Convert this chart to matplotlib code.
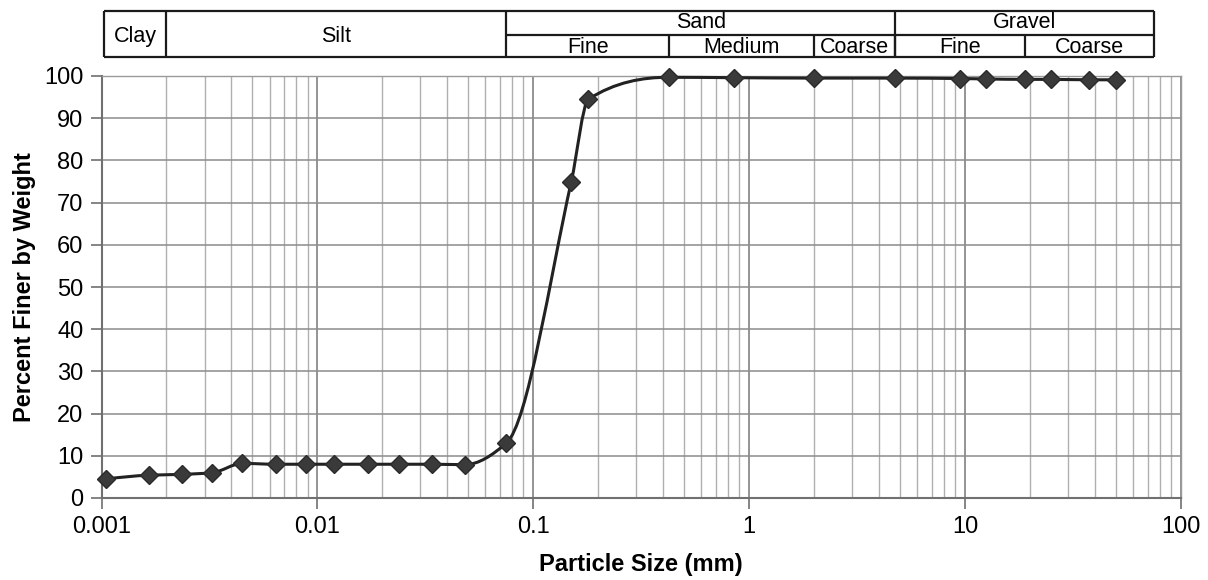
import numpy as np
import matplotlib
matplotlib.use("Agg")
import matplotlib.pyplot as plt
from matplotlib.path import Path
from matplotlib.patches import PathPatch
from matplotlib.ticker import FixedLocator, NullFormatter

plt.rcParams['font.family'] = ['Liberation Sans', 'DejaVu Sans']

# grain size data
size_mm = [0.00105, 0.00166, 0.00236, 0.00326, 0.00449, 0.0064, 0.0089, 0.0120,
           0.0171, 0.0240, 0.0341, 0.0481, 0.075, 0.15, 0.18, 0.425, 0.85, 2.0,
           4.75, 9.5, 12.5, 19.0, 25.0, 37.5, 50.0]
pct_finer = [4.5, 5.4, 5.6, 6.0, 8.2, 8.0, 8.0, 8.0,
             8.0, 8.0, 8.0, 7.9, 13.0, 75.0, 94.5, 99.7, 99.6, 99.5,
             99.5, 99.4, 99.3, 99.2, 99.2, 99.1, 99.1]

x_ticks = [0.001, 0.01, 0.1, 1, 10, 100]
x_tick_labels = ['0.001', '0.01', '0.1', '1', '10', '100']
y_ticks = list(range(0, 101, 10))

# soil classification header
main_bounds = [0.00103, 0.002, 0.075, 4.75, 75]
main_names = ['Clay', 'Silt', 'Sand', 'Gravel']
sub_bounds = [0.075, 0.425, 2.0, 4.75, 19.0, 75]
sub_names = ['Fine', 'Medium', 'Coarse', 'Fine', 'Coarse']


def pchip_slopes(x, y):
    h = np.diff(x)
    d = np.diff(y) / h
    n = len(x)
    m = np.zeros(n)
    for k in range(1, n - 1):
        if d[k - 1] * d[k] <= 0:
            m[k] = 0.0
        else:
            w1 = 2 * h[k] + h[k - 1]
            w2 = h[k] + 2 * h[k - 1]
            m[k] = (w1 + w2) / (w1 / d[k - 1] + w2 / d[k])
    for k, (h0, h1, d0, d1) in [(0, (h[0], h[1], d[0], d[1])),
                                (n - 1, (h[-1], h[-2], d[-1], d[-2]))]:
        s = ((2 * h0 + h1) * d0 - h0 * d1) / (h0 + h1)
        if np.sign(s) != np.sign(d0):
            s = 0.0
        elif np.sign(d0) != np.sign(d1) and abs(s) > abs(3 * d0):
            s = 3 * d0
        m[k] = s
    return m


def smooth_path(xs, ys):
    # smoothed line drawn as cubic bezier segments in (log x, y) space
    lx = np.log10(xs)
    ys = np.asarray(ys, float)
    m = pchip_slopes(lx, ys)
    verts = [(lx[0], ys[0])]
    codes = [Path.MOVETO]
    for i in range(len(lx) - 1):
        h = lx[i + 1] - lx[i]
        verts += [(lx[i] + h / 3, ys[i] + m[i] * h / 3),
                  (lx[i + 1] - h / 3, ys[i + 1] - m[i + 1] * h / 3),
                  (lx[i + 1], ys[i + 1])]
        codes += [Path.CURVE4] * 3
    verts = np.array(verts)
    verts[:, 0] = 10 ** verts[:, 0]
    return Path(verts, codes)


fig = plt.figure(figsize=(12.08, 5.8), dpi=100)
left, width = 101.5 / 1208, (1181 - 101.5) / 1208
bottom, top = 1 - 498 / 580, 1 - 76 / 580
ax = fig.add_axes([left, bottom, width, top - bottom])

ax.set_xscale('log')
ax.set_xlim(0.001, 100)
ax.set_ylim(0, 100)

ax.xaxis.set_major_locator(FixedLocator(x_ticks))
ax.set_xticklabels(x_tick_labels)
minor = [m * 10.0 ** e for e in range(-3, 2) for m in range(2, 10)]
ax.xaxis.set_minor_locator(FixedLocator(minor))
ax.xaxis.set_minor_formatter(NullFormatter())
ax.set_yticks(y_ticks)

ax.grid(which='major', axis='x', color='#777777', lw=1.1)
ax.grid(which='minor', axis='x', color='#b0b0b0', lw=1.0)
ax.grid(which='major', axis='y', color='#8c8c8c', lw=1.1)
ax.set_axisbelow(True)

ax.tick_params(which='major', direction='out', length=8, width=1.2, color='#707070',
               labelsize=17, pad=5)
ax.tick_params(which='minor', length=0)
for s in ['left', 'bottom']:
    ax.spines[s].set_color('#707070')
    ax.spines[s].set_linewidth(1.5)
for s in ['top', 'right']:
    ax.spines[s].set_color('#9a9a9a')
    ax.spines[s].set_linewidth(1.0)

ax.add_patch(PathPatch(smooth_path(size_mm, pct_finer), fill=False, ec='#222222',
                       lw=2.2, zorder=3, clip_on=False))
ax.plot(size_mm, pct_finer, ls='none', marker='D', ms=9.5, color='#3a3a3a',
        mec='#2a2a2a', zorder=4, clip_on=False)

ax.set_xlabel('Particle Size (mm)', fontsize=17, fontweight='bold', labelpad=11)
ax.set_ylabel('Percent Finer by Weight', fontsize=17, fontweight='bold', labelpad=6)

# header table
hb, ht = 1 - 57.3 / 580, 1 - 10.7 / 580
hx = fig.add_axes([left, hb, width, ht - hb])
hx.set_xscale('log')
hx.set_xlim(0.001, 100)
hx.set_ylim(0, 1)
hx.axis('off')
mid = 0.48
kw = dict(color='#1a1a1a', lw=1.6, clip_on=False)
hx.hlines([0, 1], main_bounds[0], main_bounds[-1], **kw)
hx.hlines(mid, sub_bounds[0], sub_bounds[-1], **kw)
hx.vlines(main_bounds, 0, 1, **kw)
hx.vlines(sub_bounds[1:-1], 0, mid, **kw)

for i, name in enumerate(main_names):
    xc = np.sqrt(main_bounds[i] * main_bounds[i + 1])
    yc = 0.45 if name in ('Clay', 'Silt') else 0.74
    hx.text(xc, yc, name, ha='center', va='center', fontsize=15.5)
for i, name in enumerate(sub_names):
    xc = np.sqrt(sub_bounds[i] * sub_bounds[i + 1])
    hx.text(xc, 0.2, name, ha='center', va='center', fontsize=15.5)

fig.savefig('out.png', dpi=100)
